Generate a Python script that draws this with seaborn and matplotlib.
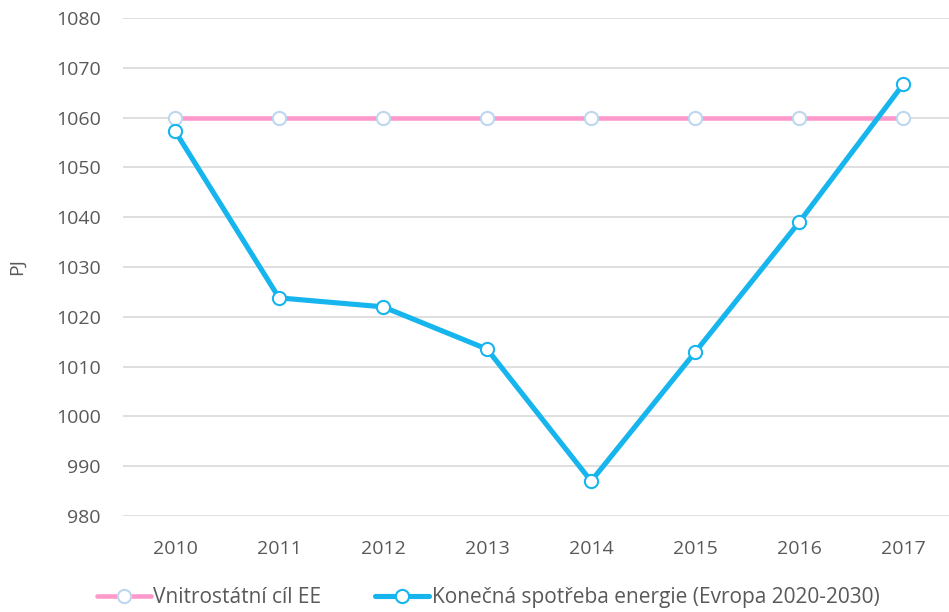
import pandas as pd
import matplotlib
matplotlib.use('Agg')
import matplotlib.pyplot as plt
import seaborn as sns

years = ['2010', '2011', '2012', '2013', '2014', '2015', '2016', '2017']
target = [1060, 1060, 1060, 1060, 1060, 1060, 1060, 1060]
consumption = [1057.3, 1023.8, 1022.0, 1013.5, 987.0, 1012.9, 1039.0, 1066.7]
target_label = 'Vnitrostátní cíl EE'
cons_label = 'Konečná spotřeba energie (Evropa 2020-2030)'

sns.set_style('white')
plt.rcParams['font.family'] = ['Open Sans', 'DejaVu Sans']
text_col = '#595959'

df_t = pd.DataFrame({'rok': years, 'PJ': target})
df_c = pd.DataFrame({'rok': years, 'PJ': consumption})

fig = plt.figure(figsize=(9.49, 6.12), dpi=100)
ax = fig.add_axes([123 / 949, 96 / 612, 1 - 123 / 949, 498 / 612])

for y in range(980, 1081, 10):
    ax.axhline(y, color='#d9d9d9', lw=1.2, zorder=0)

sns.lineplot(df_t, x='rok', y='PJ', ax=ax, color='#ff99cc', lw=3.3,
             marker='o', markersize=9.5, markerfacecolor='white',
             markeredgecolor='#bdd7ee', markeredgewidth=1.5,
             label=target_label, sort=False)
sns.lineplot(df_c, x='rok', y='PJ', ax=ax, color='#17b5ee', lw=3.7,
             marker='o', markersize=9.5, markerfacecolor='white',
             markeredgecolor='#17b5ee', markeredgewidth=1.5,
             label=cons_label, sort=False)

ax.set_ylim(980, 1080)
ax.set_xlim(-0.5, 7.44)
ax.set_yticks(range(980, 1081, 10))
ax.set_xlabel('')
ax.set_ylabel('PJ', color=text_col, fontsize=14)
ax.yaxis.set_label_coords(-97 / 826, 0.5)
ax.tick_params(axis='both', length=0, labelsize=14, colors=text_col)
ax.tick_params(axis='x', pad=17)
ax.tick_params(axis='y', pad=16)
for s in ax.spines.values():
    s.set_visible(False)

leg = ax.legend(loc='lower left', bbox_to_anchor=(-45 / 826, -0.222), ncol=2,
                frameon=False, fontsize=15, handlelength=2.6, handletextpad=0.1,
                columnspacing=2.6, labelcolor=text_col)

fig.savefig('out.png', dpi=100)
